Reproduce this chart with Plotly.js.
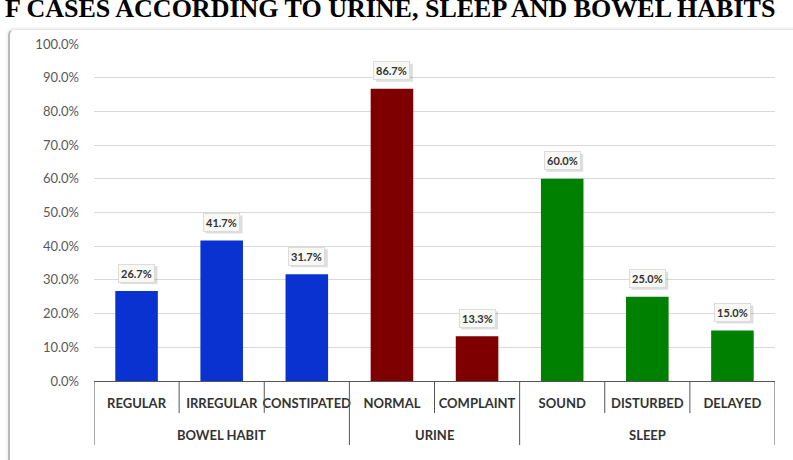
<!DOCTYPE html>
<html>
<head>
<meta charset="utf-8">
<script src="https://cdn.plot.ly/plotly-3.0.1.min.js"></script>
<style>
  html, body { margin: 0; padding: 0; background: #ffffff; }
  #wrap { position: relative; width: 793px; height: 460px; overflow: hidden; }
  #frame {
    position: absolute; left: 8px; top: 29px; width: 800px; height: 460px;
    border-left: 2px solid #b8b8b8; border-top: 1px solid #e4e4e4;
    border-top-left-radius: 6px;
    box-shadow: -1px -1px 3px rgba(0,0,0,0.08);
  }
  #chart { position: absolute; left: 0; top: 0; width: 793px; height: 460px; }
</style>
</head>
<body>
<div id="wrap">
  <div id="frame"></div>
  <div id="chart"></div>
</div>
<script>
// Categories, their habit group, and the share of cases in each
const categories = ["REGULAR", "IRREGULAR", "CONSTIPATED", "NORMAL", "COMPLAINT", "SOUND", "DISTURBED", "DELAYED"];
const groupNames = ["BOWEL HABIT", "URINE", "SLEEP"];
const groupSizes = [3, 2, 3];
const shares = [0.267, 0.417, 0.317, 0.867, 0.133, 0.600, 0.250, 0.150];
const barColors = ["#0a32d0", "#0a32d0", "#0a32d0", "#7f0000", "#7f0000", "#008000", "#008000", "#008000"];

const trace = {
  type: "bar",
  x: categories,
  y: shares,
  marker: { color: barColors },
  hoverinfo: "none"
};

const axisFont = { family: "Lato, 'Open Sans', sans-serif", size: 13, color: "#333333", weight: "bold" };
const lineStyle = { color: "#555555", width: 1 };
const valueFont = { family: "Lato, 'Open Sans', sans-serif", size: 11, color: "#333333" };

const shapes = [];
const annotations = [];

// Boxed value labels above each bar, with a soft drop shadow behind the box
shares.forEach((v, i) => {
  shapes.push({
    type: "rect", layer: "above",
    xref: "x", yref: "y",
    xsizemode: "pixel", ysizemode: "pixel",
    xanchor: i, yanchor: v,
    x0: -16, x1: 21, y0: 7, y1: 25,
    fillcolor: "rgba(0,0,0,0.13)", line: { width: 0 }
  });
  annotations.push({
    xref: "x", yref: "y", x: categories[i], y: v,
    yshift: 18,
    text: "<b>" + (v * 100).toFixed(1) + "%</b>",
    showarrow: false,
    font: valueFont,
    bgcolor: "#f8f8f4",
    bordercolor: "#dcdcdc", borderwidth: 1, borderpad: 2
  });
});

// Separators between categories (short) and between groups (long)
const groupEdges = [-0.5];
groupSizes.forEach(n => groupEdges.push(groupEdges[groupEdges.length - 1] + n));
for (let i = 0; i <= categories.length; i++) {
  const b = i - 0.5;
  const long = groupEdges.includes(b);
  shapes.push({
    type: "line", xref: "x", yref: "paper",
    x0: b, x1: b, y0: 0, y1: long ? -0.19 : -0.095,
    line: lineStyle
  });
}

// Group names centred under their categories
groupNames.forEach((g, k) => {
  annotations.push({
    xref: "x", yref: "paper",
    x: (groupEdges[k] + groupEdges[k + 1]) / 2, y: -0.16,
    xanchor: "center", yanchor: "middle",
    text: g, showarrow: false,
    font: axisFont
  });
});

// Chart heading
annotations.push({
  xref: "paper", yref: "paper",
  x: 0.4347, y: 1.104,
  xanchor: "center", yanchor: "middle",
  text: "<b>F CASES ACCORDING TO URINE, SLEEP AND BOWEL HABITS</b>",
  showarrow: false,
  font: { family: "'Liberation Serif', 'DejaVu Serif', serif", size: 26, color: "#000000" }
});

const layout = {
  width: 793, height: 460,
  margin: { l: 94, r: 18, t: 44, b: 79, pad: 0 },
  paper_bgcolor: "rgba(0,0,0,0)",
  plot_bgcolor: "rgba(0,0,0,0)",
  showlegend: false,
  bargap: 0.5,
  xaxis: {
    type: "category",
    range: [-0.5, categories.length - 0.5],
    showline: true, linecolor: "#555555", linewidth: 1,
    ticks: "",
    tickangle: 0,
    ticklabelstandoff: 10,
    showgrid: false,
    tickfont: axisFont
  },
  yaxis: {
    range: [0, 1.0],
    dtick: 0.1,
    tickformat: ".1%",
    showgrid: true, gridcolor: "#d9d9d9", gridwidth: 1,
    zeroline: false, showline: false,
    ticks: "",
    ticklabelstandoff: 14,
    tickfont: { family: "Lato, 'Open Sans', sans-serif", size: 13, color: "#595959" }
  },
  shapes: shapes,
  annotations: annotations
};

Plotly.newPlot("chart", [trace], layout, { staticPlot: true, displayModeBar: false });
</script>
</body>
</html>
